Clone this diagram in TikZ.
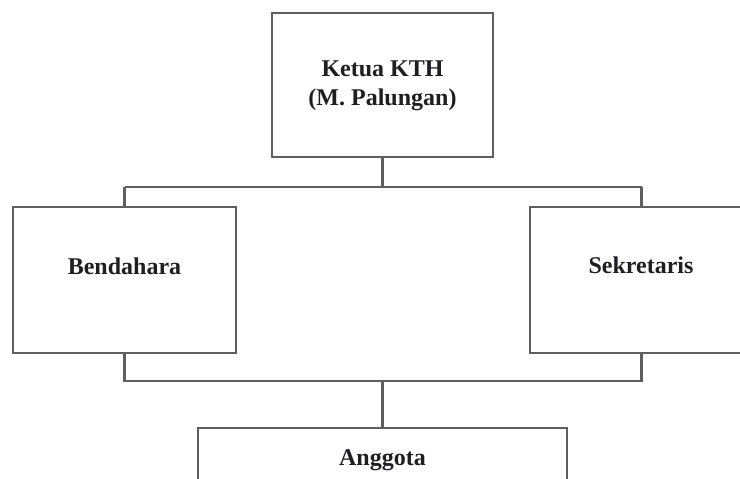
\documentclass[tikz,border=0pt]{standalone}
\usepackage{fontspec}
\setmainfont{Liberation Serif}
\definecolor{edge}{RGB}{95,95,95}
\definecolor{ink}{RGB}{30,30,35}
\tikzset{
  orgbox/.style={draw=edge, line width=2.2pt, fill=white, rectangle, inner sep=0pt},
  orgtext/.style={text=ink, font=\fontsize{24}{29}\selectfont\bfseries, align=center, inner sep=0pt},
  link/.style={draw=edge, line width=2.2pt}
}
\begin{document}
\begin{tikzpicture}[x=1pt, y=-1pt]
  \useasboundingbox (0,0) rectangle (740,479);
  \clip (0,0) rectangle (740,479);
  % boxes
  \node[orgbox, minimum width=221pt, minimum height=144pt] (ketua) at (382.5,85) {};
  \node[orgbox, minimum width=223pt, minimum height=146pt] (bend) at (124.5,280) {};
  \node[orgbox, minimum width=223pt, minimum height=146pt] (sekr) at (641.5,280) {};
  \node[orgbox, minimum width=369pt, minimum height=146pt] (angg) at (382.5,501) {};
  % labels
  \node[orgtext] (tketua) at (382.5,86) {Ketua KTH\\(M. Palungan)};
  \node[orgtext] (tbend) at (124.5,266) {Bendahara};
  \node[orgtext] (tsekr) at (641,265) {Sekretaris};
  \node[orgtext, anchor=base] (tangg) at (382.5,465) {Anggota};
  % bus bars
  \coordinate (topbar) at (0,187);
  \coordinate (lowbar) at (0,381);
  \draw[link] (ketua.south) -- (ketua.south |- topbar);
  \draw[link] (bend.north |- topbar) -- (sekr.north |- topbar);
  \draw[link] (bend.north |- topbar) -- (bend.north);
  \draw[link] (sekr.north |- topbar) -- (sekr.north);
  \draw[link] (bend.south) -- (bend.south |- lowbar) -- (sekr.south |- lowbar) -- (sekr.south);
  \draw[link] (angg.north |- lowbar) -- (angg.north);
\end{tikzpicture}
\end{document}
